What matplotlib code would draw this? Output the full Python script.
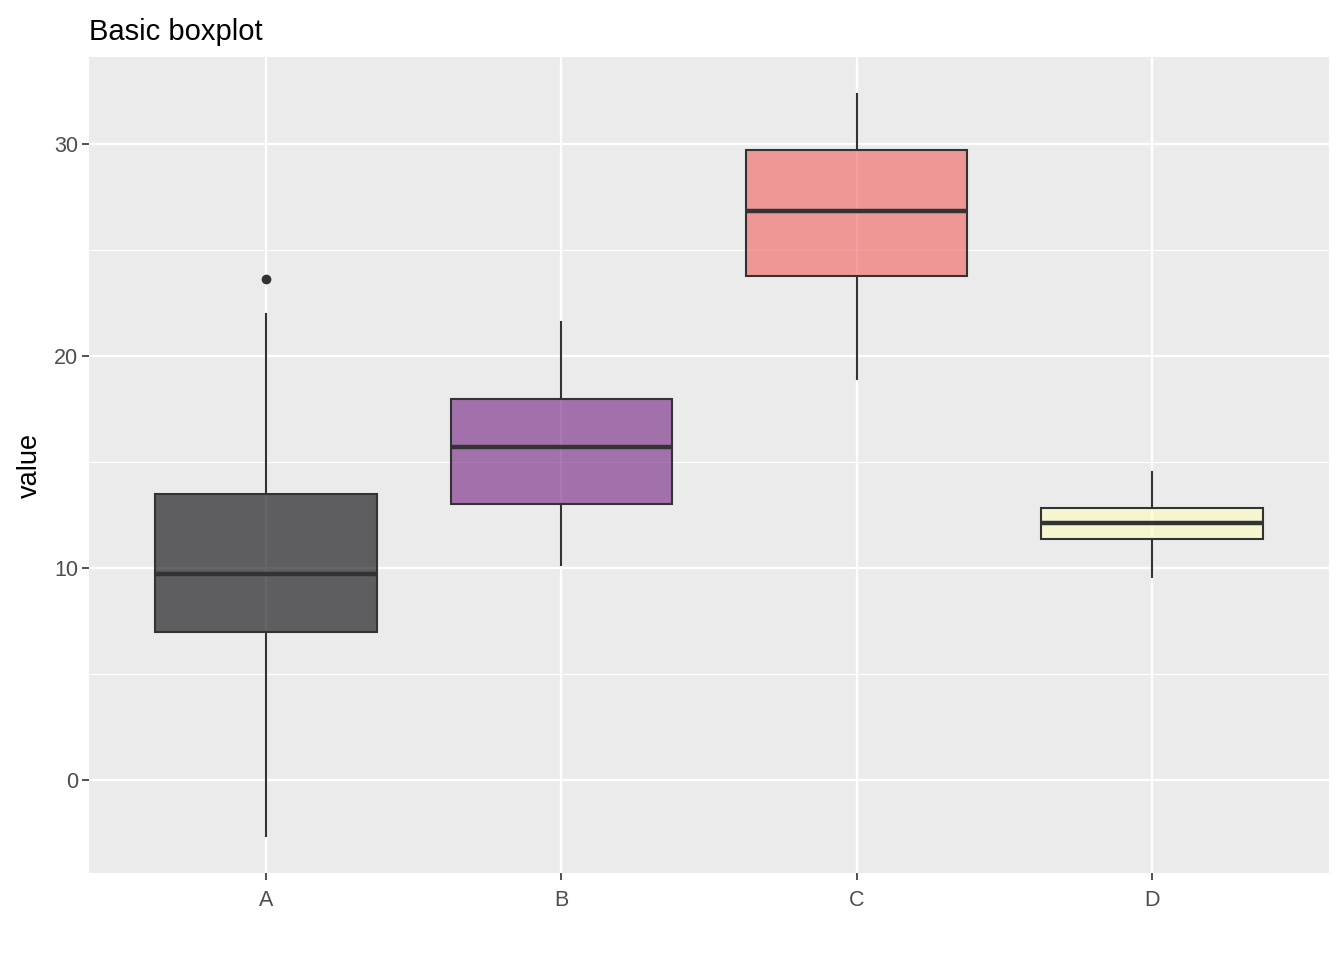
import numpy as np
import matplotlib.pyplot as plt

plt.rcParams["font.family"] = ["Liberation Sans", "DejaVu Sans"]

names = ["A", "B", "C", "D"]
whislo = [-2.64, 10.14, 18.92, 9.58]
q1 = [6.98, 13.02, 23.77, 11.37]
med = [9.72, 15.71, 26.84, 12.12]
q3 = [13.49, 17.97, 29.72, 12.83]
whishi = [21.98, 21.6, 32.36, 14.53]
outliers = [[23.63], [], [], []]
fills = ["#000004", "#721F81", "#F1605D", "#FCFDBF"]

fig = plt.figure(figsize=(13.44, 9.6), dpi=100)
ax = fig.add_axes([89 / 1344, 87 / 960, 1240 / 1344, 816 / 960])
ax.set_facecolor("#ebebeb")

stats = []
for i in range(len(names)):
    stats.append(dict(label=names[i], whislo=whislo[i], q1=q1[i], med=med[i],
                      q3=q3[i], whishi=whishi[i], fliers=outliers[i]))

pos = np.arange(1, len(names) + 1)
bp = ax.bxp(stats, positions=pos, widths=0.75, patch_artist=True, showcaps=False,
            boxprops=dict(edgecolor="#333333", linewidth=1.5),
            medianprops=dict(color="#333333", linewidth=3.2, solid_capstyle="butt"),
            whiskerprops=dict(color="#333333", linewidth=1.5),
            flierprops=dict(marker="o", markerfacecolor="#333333", markeredgecolor="#333333",
                            markersize=6))
for patch, c in zip(bp["boxes"], fills):
    r, g, b = [int(c[k:k + 2], 16) / 255 for k in (1, 3, 5)]
    patch.set_facecolor((r, g, b, 0.6))
    patch.set_zorder(3)
for item in bp["medians"] + bp["whiskers"] + bp["fliers"]:
    item.set_zorder(4)

ax.set_yticks([0, 10, 20, 30])
ax.set_yticks([5, 15, 25], minor=True)
ax.set_xticks(pos)
ax.set_xticklabels(names)
ax.set_xlim(0.4, 4.6)
ax.set_ylim(-4.39, 34.1)
ax.grid(which="major", color="white", linewidth=1.6, zorder=0)
ax.grid(which="minor", axis="y", color="white", linewidth=0.8, zorder=0)
ax.set_axisbelow(True)
for s in ax.spines.values():
    s.set_visible(False)
ax.tick_params(axis="both", which="major", length=5, width=1.2, color="#333333",
               labelcolor="#4d4d4d", labelsize=15.5, pad=3)
ax.tick_params(axis="x", which="major", pad=7)
ax.tick_params(axis="y", which="minor", length=0)
ax.set_ylabel("value", fontsize=19.5, labelpad=8)
ax.set_title("Basic boxplot", loc="left", fontsize=21, pad=12)

fig.savefig("out.png", dpi=100)
